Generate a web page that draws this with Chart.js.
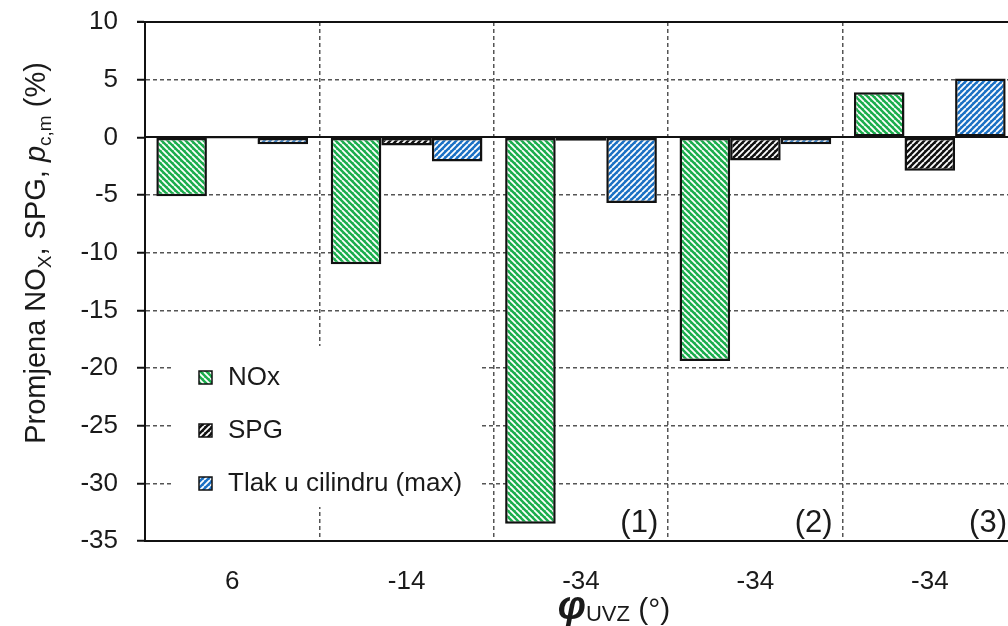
<!DOCTYPE html>
<html>
<head>
<meta charset="utf-8">
<script src="https://cdn.jsdelivr.net/npm/chart.js@4.4.1/dist/chart.umd.min.js"></script>
<style>
html,body{margin:0;padding:0;background:#fff;overflow:hidden;}
</style>
</head>
<body>
<canvas id="promjenaChart" width="1017" height="626"></canvas>
<script>
// podaci
var labels = ['6', '-14', '-34', '-34', '-34'];
var noxData = [-5.1, -11.0, -33.5, -19.4, 3.9];
var spgData = [-0.1, -0.7, -0.3, -2.0, -2.9];
var tlakData = [-0.6, -2.1, -5.7, -0.6, 5.1];
var seriesNames = ['NOx', 'SPG', 'Tlak u cilindru (max)'];
var caseMarks = ['', '', '(1)', '(2)', '(3)'];
var yMin = -35, yMax = 10, yStep = 5;

var fontFam = '"Liberation Sans", Arial, sans-serif';

function Stripes(color, dir){
    var n = 6;
    var c = document.createElement('canvas');
    c.width = n; c.height = n;
    var g = c.getContext('2d');
    g.fillStyle = color;
    g.fillRect(0, 0, n, n);
    g.strokeStyle = '#fff';
    g.lineWidth = 1.8;
    g.beginPath();
    for (var k = -n; k <= n; k += n){
        if (dir == '/'){ g.moveTo(k, n); g.lineTo(k + n, 0); }
        else { g.moveTo(k, 0); g.lineTo(k + n, n); }
    }
    g.stroke();
    return g.createPattern(c, 'repeat');
}

function DrawParts(g, parts, x, y){
    // parts: [text, font, dy]
    var w = 0;
    parts.forEach(function(p){ g.font = p[1]; w += g.measureText(p[0]).width; });
    var cx = x - w / 2;
    parts.forEach(function(p){
        g.font = p[1];
        g.fillText(p[0], cx, y + (p[2] || 0));
        cx += g.measureText(p[0]).width;
    });
}

var framePlugin = {
    id: 'frame',
    afterDatasetsDraw: function(chart){
        var g = chart.ctx, area = chart.chartArea;
        var ys = chart.scales.y, xs = chart.scales.x;
        g.save();
        // nulta linija i gornji rub
        g.strokeStyle = '#111';
        g.lineWidth = 2;
        g.setLineDash([]);
        var y0 = Math.round(ys.getPixelForValue(0));
        var yT = Math.round(ys.getPixelForValue(yMax));
        g.beginPath();
        g.moveTo(area.left, y0); g.lineTo(area.right, y0);
        g.moveTo(area.left - 8, yT); g.lineTo(area.right, yT);
        g.stroke();

        // legenda
        g.fillStyle = '#fff';
        g.fillRect(171, 346, 310, 161);
        var ds = chart.data.datasets;
        g.font = '26px ' + fontFam;
        g.textBaseline = 'middle';
        for (var i = 0; i < ds.length; i++){
            var ry = 377 + i * 53;
            g.fillStyle = ds[i].backgroundColor;
            g.fillRect(199, ry - 6, 13, 13);
            g.strokeStyle = '#111';
            g.lineWidth = 1.5;
            g.strokeRect(199, ry - 6, 13, 13);
            g.fillStyle = '#1a1a1a';
            g.fillText(ds[i].label, 228, ry + 1);
        }

        // oznake slucajeva
        g.font = '31px ' + fontFam;
        g.textAlign = 'right';
        g.textBaseline = 'alphabetic';
        for (var j = 0; j < caseMarks.length; j++){
            if (!caseMarks[j]) continue;
            var xr = xs.getPixelForValue(j) + xs.width / labels.length / 2 - 10;
            g.fillText(caseMarks[j], xr, area.bottom - 9);
        }
        g.restore();
    },
    afterDraw: function(chart){
        var g = chart.ctx;
        g.save();
        g.fillStyle = '#1a1a1a';
        g.textBaseline = 'alphabetic';
        g.textAlign = 'left';
        // naslov y osi
        g.translate(34, 253);
        g.rotate(-Math.PI / 2);
        DrawParts(g, [
            ['Promjena NO', '29px ' + fontFam],
            ['X', '19px ' + fontFam, 6],
            [', SPG, ', '29px ' + fontFam],
            ['p', 'italic 29px ' + fontFam],
            ['c,m', '19px ' + fontFam, 6],
            [' (%)', '29px ' + fontFam]
        ], 0, 11);
        g.restore();
        g.save();
        g.fillStyle = '#1a1a1a';
        g.textBaseline = 'alphabetic';
        g.textAlign = 'left';
        DrawParts(g, [
            ['\u03C6', 'italic bold 40px ' + fontFam],
            ['UVZ', '22px ' + fontFam, 2],
            [' (\u00B0)', '30px ' + fontFam]
        ], 614, 619);
        g.restore();
    }
};

var ctx = document.getElementById('promjenaChart').getContext('2d');
var myChart = new Chart(ctx, {
    type: 'bar',
    data: {
        labels: labels,
        datasets: [{
            label: seriesNames[0],
            data: noxData,
            backgroundColor: Stripes('#1aad4c', '\\'),
            borderColor: '#111',
            borderWidth: 2.5,
            borderSkipped: false
        },{
            label: seriesNames[1],
            data: spgData,
            backgroundColor: Stripes('#111111', '/'),
            borderColor: '#111',
            borderWidth: 2.5,
            borderSkipped: false
        },{
            label: seriesNames[2],
            data: tlakData,
            backgroundColor: Stripes('#1a70c4', '/'),
            borderColor: '#111',
            borderWidth: 2.5,
            borderSkipped: false
        }]
    },
    options: {
        responsive: false,
        animation: false,
        layout: {padding: {top: 22, right: 0, left: 0, bottom: 0}},
        datasets: {bar: {categoryPercentage: 0.87, barPercentage: 1}},
        plugins: {legend: {display: false}, tooltip: {enabled: false}},
        scales: {
            x: {
                grid: {offset: true, color: '#555', lineWidth: 1.5, drawTicks: false},
                border: {display: true, color: '#111', width: 2, dash: [4, 3]},
                ticks: {color: '#1a1a1a', font: {family: fontFam, size: 26}, padding: 25, maxRotation: 0},
                afterFit: function(s){ s.height = 85; s.paddingLeft = 0; s.paddingRight = 0; }
            },
            y: {
                min: yMin,
                max: yMax,
                ticks: {stepSize: yStep, color: '#1a1a1a', font: {family: fontFam, size: 26}, padding: 19},
                grid: {
                    color: function(c){
                        return (c.tick && (c.tick.value == 0 || c.tick.value == yMax)) ? 'rgba(0,0,0,0)' : '#555';
                    },
                    lineWidth: 1.5,
                    tickLength: 8,
                    tickColor: '#111',
                    tickWidth: 2,
                    tickBorderDash: []
                },
                border: {display: true, color: '#111', width: 2, dash: [4, 3]},
                afterFit: function(s){ s.width = 145; s.paddingTop = 0; s.paddingBottom = 0; }
            }
        }
    },
    plugins: [framePlugin]
});
</script>
</body>
</html>
